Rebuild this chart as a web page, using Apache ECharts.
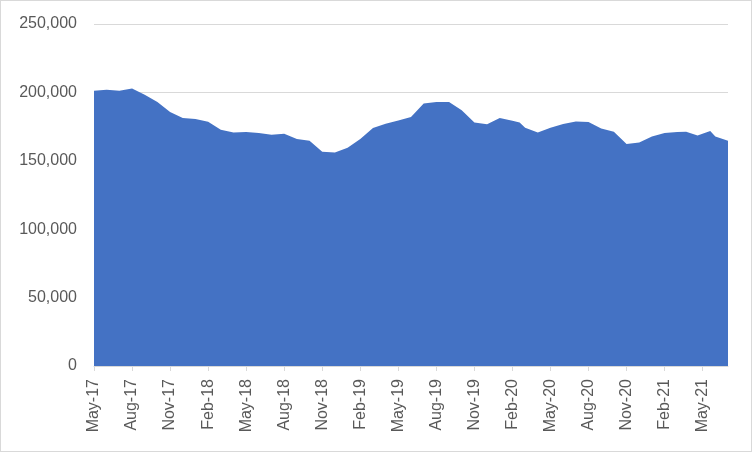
<!DOCTYPE html>
<html>
<head>
<meta charset="utf-8">
<script src="https://cdn.jsdelivr.net/npm/echarts@6/dist/echarts.min.js"></script>
<style>
html,body{margin:0;padding:0;background:#fff;}
#wrap{width:752px;height:452px;box-sizing:border-box;border:1px solid #d9d9d9;position:relative;}
#chart{position:absolute;left:-1px;top:-1px;width:752px;height:452px;}
</style>
</head>
<body>
<div id="wrap"><div id="chart"></div></div>
<script>
// month offsets from May-17 (0 = May-17)
const monthOffsets = [0,1,2,3,4,5,6,7,8,9,10,11,12,13,14,15,16,17,18,19,20,21,22,23,24,25,26,27,28,29,30,31,32,33,33.57,34,35,36,37,38,39,40,41,42,43,44,45,46,46.7,47.6,48.6,49,50];
const values = [201200,202000,201200,202900,198300,193000,185600,181300,180600,178600,172700,170700,171000,170400,169100,169700,166000,164700,156700,156100,159500,165900,174000,177000,179400,182100,191800,193000,193000,187000,178000,176700,181200,179300,178000,174200,170700,174200,176900,178800,178300,173700,171300,162200,163400,167800,170300,171000,171200,168500,171700,167800,164700];
const tickLabels = ['May-17','Aug-17','Nov-17','Feb-18','May-18','Aug-18','Nov-18','Feb-19','May-19','Aug-19','Nov-19','Feb-20','May-20','Aug-20','Nov-20','Feb-21','May-21'];
const tickPositions = tickLabels.map((_, k) => k * 3);
const yTicks = [0,50000,100000,150000,200000,250000];

const chart = echarts.init(document.getElementById('chart'), null, {renderer:'canvas'});
chart.setOption({
  animation: false,
  backgroundColor: 'transparent',
  grid: {left: 94, right: 24, top: 24, bottom: 86, containLabel: false},
  xAxis: {
    type: 'value', min: 0, max: 50, interval: 3,
    axisLine: {show: true, lineStyle: {color: '#d9d9d9', width: 1}},
    axisTick: {show: true, length: 5, lineStyle: {color: '#d9d9d9'}, customValues: tickPositions},
    axisLabel: {
      customValues: tickPositions,
      rotate: 90, margin: 13,
      color: '#595959', fontSize: 16, fontFamily: 'Liberation Sans',
      formatter: v => tickLabels[Math.round(v / 3)] || ''
    },
    splitLine: {show: false}
  },
  yAxis: {
    type: 'value', min: yTicks[0], max: yTicks[yTicks.length-1], interval: 50000,
    axisLine: {show: false}, axisTick: {show: false},
    axisLabel: {margin: 17, color: '#595959', fontSize: 16, fontFamily: 'Liberation Sans',
      formatter: v => v.toLocaleString('en-US')},
    splitLine: {show: true, lineStyle: {color: '#d9d9d9', width: 1}}
  },
  series: [{
    type: 'line',
    data: monthOffsets.map((m, i) => [m, values[i]]),
    symbol: 'none',
    lineStyle: {width: 0, color: '#4472C4'},
    itemStyle: {color: '#4472C4'},
    areaStyle: {color: '#4472C4', opacity: 1}
  }]
});
</script>
</body>
</html>
